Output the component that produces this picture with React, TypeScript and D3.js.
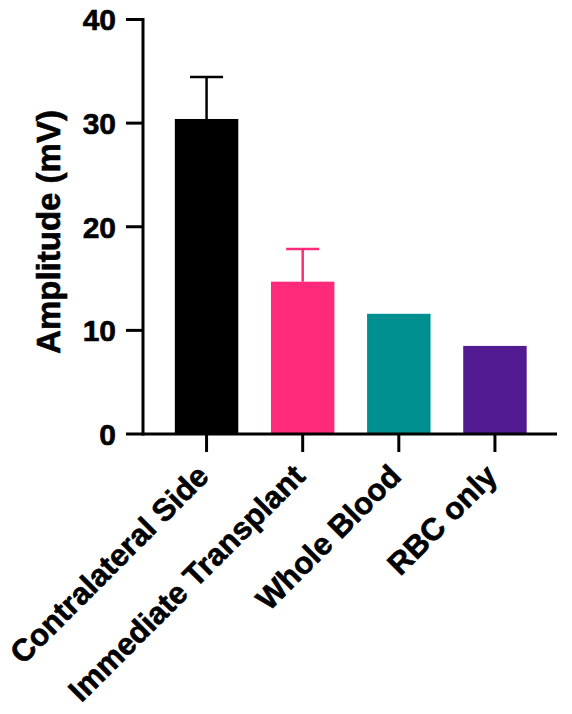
import React from "react";
import * as d3 from "d3";

const categories = ["Contralateral Side", "Immediate Transplant", "Whole Blood", "RBC only"];
const means = [30.4, 14.7, 11.6, 8.5];
const errors = [4.05, 3.15, 0, 0];
const colors = ["#000000", "#FF2A7A", "#008F8F", "#521B92"];
const yTicks = [0, 10, 20, 30, 40];

export default function App() {
  const W = 572, H = 714;
  const axisX = 143;
  const y = d3.scaleLinear().domain([0, 40]).range([434, 19.5]);
  const x = d3.scaleBand().domain(categories).range([158.5, 543]).paddingInner(0.34).paddingOuter(0.17);
  const font = "'Liberation Sans', Arial, sans-serif";
  const textStroke = { stroke: "#000", strokeWidth: 0.6 };
  return (
    <svg width={W} height={H} style={{ position: "absolute", left: 0, top: 0 }}>
      {categories.map((c, i) => {
        const bx = x(c)!;
        const bw = x.bandwidth();
        const cx = bx + bw / 2;
        const top = y(means[i]);
        const errTop = y(means[i] + errors[i]);
        return (
          <g key={c}>
            <rect x={bx} y={top} width={bw} height={y(0) - top} fill={colors[i]} />
            {errors[i] > 0 && (
              <g stroke={colors[i]} strokeWidth={2.5}>
                <line x1={cx} x2={cx} y1={top} y2={errTop} />
                <line x1={cx - 16.5} x2={cx + 16.5} y1={errTop} y2={errTop} />
              </g>
            )}
          </g>
        );
      })}
      {/* y axis */}
      <line x1={axisX} x2={axisX} y1={y(40) - 1.5} y2={y(0) + 1.5} stroke="#000" strokeWidth={3} />
      {yTicks.map((t) => (
        <g key={t}>
          <line x1={axisX - 17} x2={axisX} y1={y(t)} y2={y(t)} stroke="#000" strokeWidth={3} />
          <text x={axisX - 27} y={y(t)} dy="0.36em" textAnchor="end" fontFamily={font} fontWeight="bold" fontSize={30} {...textStroke}>
            {t}
          </text>
        </g>
      ))}
      {/* x axis */}
      <line x1={axisX} x2={557} y1={y(0)} y2={y(0)} stroke="#000" strokeWidth={3} />
      {categories.map((c) => {
        const cx = x(c)! + x.bandwidth() / 2;
        return (
          <g key={c}>
            <line x1={cx} x2={cx} y1={y(0)} y2={y(0) + 18} stroke="#000" strokeWidth={3} />
            <text
              transform={`translate(${cx + 4},${y(0) + 44}) rotate(-45)`}
              textAnchor="end"
              fontFamily={font}
              fontWeight="bold"
              fontSize={31}
              {...textStroke}
            >
              {c}
            </text>
          </g>
        );
      })}
      <text
        transform={`translate(60,232) rotate(-90)`}
        textAnchor="middle"
        fontFamily={font}
        fontWeight="bold"
        fontSize={33}
        {...textStroke}
      >
        Amplitude (mV)
      </text>
    </svg>
  );
}
